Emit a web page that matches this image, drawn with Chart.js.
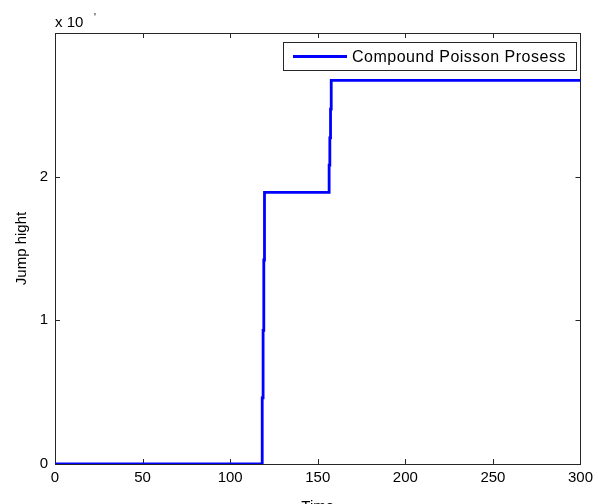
<!DOCTYPE html>
<html>
<head>
<meta charset="utf-8">
<script src="https://cdn.jsdelivr.net/npm/chart.js@4"></script>
<style>
  html, body { margin: 0; padding: 0; background: #fff; overflow: hidden; }
  #wrap { position: relative; width: 598px; height: 518px; }
</style>
</head>
<body>
<div id="wrap"><canvas id="chart"></canvas></div>
<script>
// jump times and running total (in units of the axis exponent)
const jumpTimes = [0, 118.3, 118.8, 119.2, 119.6, 156.5, 156.9, 157.3, 157.7, 300];
const jumpValues = [0, 0.46, 0.93, 1.42, 1.89, 2.08, 2.27, 2.47, 2.67, 2.67];
const seriesName = "Compound Poisson Prosess";
const xTitle = "Time";
const yTitle = "Jump hight";
const exponentText = "x 10";
const exponentSup = "'";

const FONT = "'Liberation Sans', Arial, sans-serif";
const frameColor = "#262626";

const points = jumpTimes.map((t, i) => ({ x: t, y: jumpValues[i] }));

// MATLAB-ish box with inward ticks on all four sides
const boxPlugin = {
	id: "box",
	beforeDatasetsDraw(chart) {
		const { ctx, chartArea: a, scales } = chart;
		ctx.save();
		ctx.strokeStyle = frameColor;
		ctx.lineWidth = 1;
		ctx.beginPath();
		scales.x.ticks.forEach((t) => {
			const px = Math.round(scales.x.getPixelForValue(t.value)) + 0.5;
			ctx.moveTo(px, a.bottom);
			ctx.lineTo(px, a.bottom - 5);
			ctx.moveTo(px, a.top);
			ctx.lineTo(px, a.top + 5);
		});
		scales.y.ticks.forEach((t) => {
			const py = Math.round(scales.y.getPixelForValue(t.value)) + 0.5;
			ctx.moveTo(a.left, py);
			ctx.lineTo(a.left + 5, py);
			ctx.moveTo(a.right, py);
			ctx.lineTo(a.right - 5, py);
		});
		ctx.stroke();
		ctx.strokeRect(Math.round(a.left) + 0.5, Math.round(a.top) + 0.5,
			Math.round(a.right - a.left), Math.round(a.bottom - a.top));
		ctx.restore();
	},
	afterDraw(chart) {
		const { ctx, chartArea: a } = chart;
		ctx.save();
		// exponent note above the y axis
		ctx.fillStyle = "#000";
		ctx.font = "15px " + FONT;
		ctx.textBaseline = "alphabetic";
		ctx.fillText(exponentText, a.left, 27);
		ctx.font = "10px " + FONT;
		ctx.fillText(exponentSup, a.left + 39, 21);

		// legend box
		const lx = 283.5, ly = 42.5, lw = 293, lh = 28;
		ctx.fillStyle = "#fff";
		ctx.fillRect(lx, ly, lw, lh);
		ctx.strokeStyle = frameColor;
		ctx.lineWidth = 1;
		ctx.strokeRect(lx, ly, lw, lh);
		ctx.strokeStyle = "#0000ff";
		ctx.lineWidth = 2.8;
		ctx.beginPath();
		ctx.moveTo(293, ly + lh / 2);
		ctx.lineTo(347, ly + lh / 2);
		ctx.stroke();
		ctx.fillStyle = "#000";
		ctx.font = "16px " + FONT;
		ctx.letterSpacing = "0.5px";
		ctx.textBaseline = "middle";
		ctx.fillText(chart.data.datasets[0].label, 352, ly + lh / 2 + 1);
		ctx.restore();
	},
};

new Chart(document.getElementById("chart"), {
	type: "line",
	data: {
		datasets: [
			{
				label: seriesName,
				data: points,
				borderColor: "#0000ff",
				borderWidth: 2.8,
				pointRadius: 0,
				stepped: "before",
				fill: false,
			},
		],
	},
	options: {
		responsive: true,
		maintainAspectRatio: false,
		animation: false,
		layout: { padding: { top: 33, right: 16, left: 0, bottom: 0 } },
		plugins: { legend: { display: false }, tooltip: { enabled: false } },
		scales: {
			x: {
				type: "linear",
				min: 0,
				max: 300,
				grid: { display: false, drawTicks: false },
				border: { display: false },
				ticks: {
					stepSize: 50,
					color: "#000",
					padding: 5,
					maxRotation: 0,
					font: { family: FONT, size: 15 },
				},
				title: {
					display: true,
					text: xTitle,
					color: "#000",
					font: { family: FONT, size: 15 },
					padding: { top: 0, bottom: 2 },
				},
				afterFit(scale) { scale.height = 54; },
			},
			y: {
				min: 0,
				max: 3,
				grid: { display: false, drawTicks: false },
				border: { display: false },
				ticks: {
					stepSize: 1,
					color: "#000",
					padding: 7,
					font: { family: FONT, size: 15 },
					callback: (v) => (v === 3 ? "" : v),
				},
				title: {
					display: true,
					text: yTitle,
					color: "#000",
					font: { family: FONT, size: 15 },
					padding: { top: 13, bottom: 0 },
				},
				afterFit(scale) { scale.width = 55; },
			},
		},
	},
	plugins: [boxPlugin],
});
</script>
</body>
</html>
